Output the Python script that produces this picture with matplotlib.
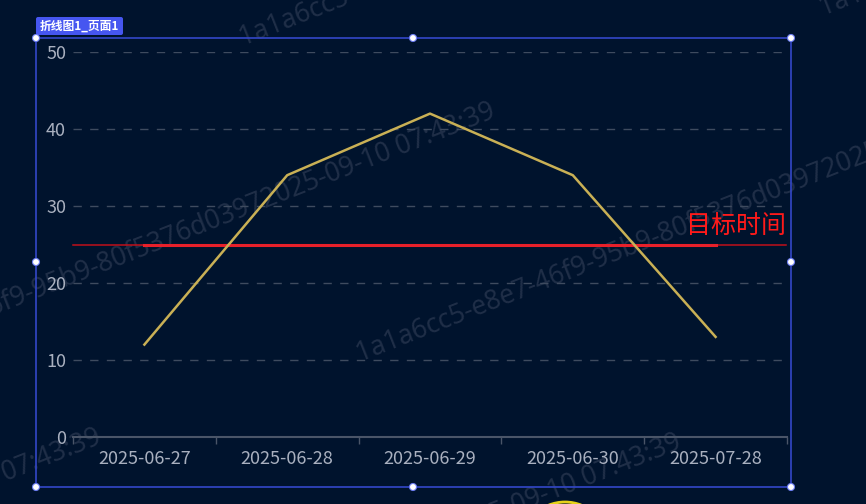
import matplotlib.pyplot as plt
from matplotlib.patches import Rectangle, FancyBboxPatch, Circle

plt.rcParams['font.family'] = ['Noto Sans CJK SC', 'DejaVu Sans']

dates = ["2025-06-27", "2025-06-28", "2025-06-29", "2025-06-30", "2025-07-28"]
values = [12, 34, 42, 34, 13]
target_value = 25
target_label = "目标时间"
y_ticks = [0, 10, 20, 30, 40, 50]
tag_text = "折线图1_页面1"
watermark = "1a1a6cc5-e8e7-46f9-95b9-80f5376d03972025-09-10 07:43:39"

BG = "#00132d"
W, H = 866, 504

fig = plt.figure(figsize=(W / 100, H / 100), dpi=100, facecolor=BG)

# overlay layer in pixel coordinates (watermarks underneath the chart)
ov = fig.add_axes([0, 0, 1, 1], facecolor="none")
ov.set_xlim(0, W)
ov.set_ylim(H, 0)
ov.axis("off")

for (wx, wy) in [(-201, 392), (360, 362), (243, 46), (-595, 718), (-15, 723), (823, 16)]:
    ov.text(wx, wy, watermark, color="#aaa6bb", alpha=0.19, fontsize=19, rotation=21.5,
            rotation_mode="anchor", ha="left", va="baseline", family="Noto Sans",
            weight="light", clip_on=True)

# plot area in pixel terms -> figure fractions
left, right, top, bottom = 73, 787, 52, 437
ax = fig.add_axes([left / W, 1 - bottom / H, (right - left) / W, (bottom - top) / H])
ax.set_facecolor("none")

x = list(range(len(dates)))
ax.set_xlim(-0.5, len(dates) - 0.5)
ax.set_ylim(0, 50)

# grid
for t in y_ticks[1:]:
    ax.axhline(t, color="#3e4b5f", lw=1, ls=(0, (6, 6)), zorder=1)

# target line: thin full width + thick between first and last point
ax.plot([-0.5, 4.49], [target_value, target_value], color="#c0101a", lw=1.1, zorder=2,
        clip_on=False)
ax.plot([x[0], x[-1]], [target_value, target_value], color="#e8202a", lw=2.2, zorder=3)
ax.text(4.49, target_value + 0.6, target_label, color="#ff1a1a",
        fontsize=18, ha="right", va="bottom", zorder=4)

ax.plot(x, values, color="#c9b055", lw=1.8, zorder=5)

for s in ["top", "right", "left"]:
    ax.spines[s].set_visible(False)
ax.spines["bottom"].set_color("#4a5568")
ax.spines["bottom"].set_linewidth(1.5)

ax.set_yticks(y_ticks)
ax.tick_params(axis="y", length=0, colors="#a9b0bf", labelsize=13, pad=5)
ax.set_xticks(x)
ax.set_xticklabels(dates)
ax.tick_params(axis="x", length=0, colors="#a9b0bf", labelsize=13, pad=9)
ax.set_xticks([i - 0.5 for i in range(len(dates) + 1)], minor=True)
ax.tick_params(axis="x", which="minor", length=5, color="#4a5568", width=1)

# top overlay for frame and badge
ov2 = fig.add_axes([0, 0, 1, 1], facecolor="none")
ov2.set_xlim(0, W)
ov2.set_ylim(H, 0)
ov2.axis("off")

# yellow badge at bottom
ov2.add_patch(Circle((565, 546), 44, fill=False, ec="#e6d21a", lw=2))
ov2.add_patch(Circle((565, 546), 36, fill=False, ec="#8a7a20", lw=1))

# selection frame
ov2.add_patch(Rectangle((36, 38), 755, 449, fill=False, ec="#3347c8", lw=1.2))
for hx in (36, 413, 791):
    for hy in (38, 262, 487):
        if hx == 413 and hy == 262:
            continue
        ov2.add_patch(Circle((hx, hy), 3.5, fc="white", ec="#6b7cf0", lw=0.8, zorder=10))

ov2.add_patch(FancyBboxPatch((36, 17), 87, 18, boxstyle="round,pad=0,rounding_size=2",
                             fc="#4656f0", ec="none", zorder=9))
ov2.text(40, 26.5, tag_text, color="white", fontsize=8.5, ha="left", va="center",
         weight="bold", zorder=10)

fig.savefig("out.png", dpi=100, facecolor=BG)
